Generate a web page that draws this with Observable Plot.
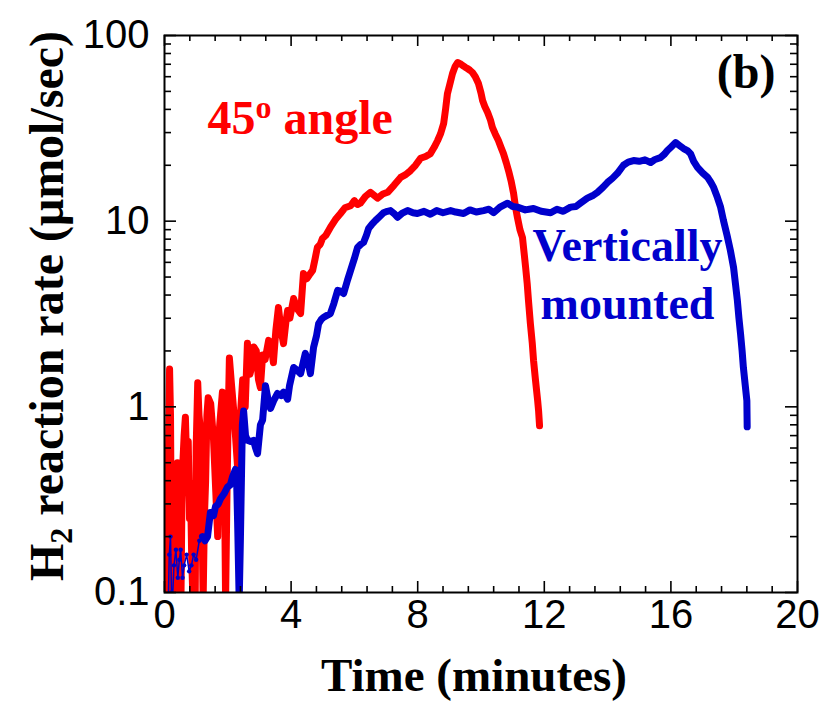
<!DOCTYPE html>
<html>
<head>
<meta charset="utf-8">
<script src="https://cdn.jsdelivr.net/npm/d3@7"></script>
<script src="https://cdn.jsdelivr.net/npm/@observablehq/plot@0.6"></script>
<style>
  html, body { margin: 0; padding: 0; background: #fff; }
  svg { display: block; }
</style>
</head>
<body>
<div id="chart"></div>
<script>
// ---- Data ----
// 45° angle run: time (minutes) and H2 reaction rate (µmol/sec)
const angleTime = [0.08,0.12,0.16,0.19,0.21,0.24,0.28,0.31,0.34,0.38,0.41,0.44,0.48,0.52,0.55,0.58,0.62,0.66,0.70,0.75,0.79,0.82,0.86,0.90,0.94,0.97,1.00,1.05,1.09,1.12,1.15,1.18,1.22,1.26,1.30,1.34,1.38,1.46,1.55,1.62,1.68,1.74,1.83,1.89,1.93,1.97,2.00,2.05,2.12,2.20,2.31,2.38,2.47,2.55,2.62,2.70,2.75,2.82,2.90,2.97,3.03,3.10,3.18,3.29,3.36,3.44,3.52,3.60,3.68,3.76,3.84,3.89,3.96,4.08,4.18,4.30,4.39,4.50,4.60,4.68,4.76,4.83,4.92,4.99,5.10,5.24,5.40,5.56,5.70,5.88,6.00,6.10,6.19,6.35,6.51,6.62,6.73,6.90,7.05,7.25,7.46,7.62,7.77,7.93,8.09,8.25,8.40,8.52,8.63,8.72,8.82,8.88,8.94,9.02,9.10,9.18,9.26,9.34,9.42,9.50,9.57,9.65,9.73,9.82,9.92,10.00,10.05,10.12,10.21,10.30,10.36,10.45,10.55,10.63,10.71,10.80,10.87,10.95,11.03,11.09,11.15,11.23,11.31,11.36,11.41,11.46,11.50,11.56,11.62,11.66,11.72,11.79,11.82,11.85];
const angleRate = [0.09,0.5,1.6,0.9,0.25,0.09,0.35,0.15,0.45,0.29,0.5,0.09,0.2,0.09,0.3,0.5,0.7,0.88,0.5,0.65,0.25,0.39,0.15,0.09,0.2,0.09,0.6,1.35,0.9,0.8,0.4,0.3,0.09,0.25,0.4,0.9,1.12,1.04,0.66,0.35,0.2,0.78,1.2,0.5,0.09,0.3,0.66,1.83,1.3,0.9,0.47,0.8,1.4,1.0,2.2,1.5,1.63,2.1,2.0,1.4,1.27,1.9,1.8,2.28,2.2,1.73,2.6,3.43,2.6,2.19,2.9,3.3,3.0,3.83,3.4,3.18,5.23,4.9,5.2,5.43,6.3,7.22,7.5,8.07,8.4,9.25,10.2,11.0,11.8,12.1,12.9,12.3,12.5,13.6,14.3,13.8,13.3,14.0,14.3,15.6,17.2,17.8,18.7,20.0,21.8,22.3,23.1,25.0,27.2,29.5,33.6,40,48.7,55,62.4,68,71.5,70.5,68.9,67.5,66.4,65,63.2,60,55.1,49,44.7,41.5,38.5,35,32.0,29.5,27.2,25.0,23.1,20.6,18.7,16.5,14.1,11.9,10.5,9.0,8.17,6.8,5.63,4.6,3.74,2.81,2.2,1.78,1.4,1.08,0.95,0.79];

// Vertically mounted run
const vertTime = [0.12,0.15,0.19,0.22,0.25,0.30,0.36,0.42,0.47,0.51,0.57,0.62,0.70,0.78,0.85,0.92,1.00,1.10,1.20,1.28,1.36,1.45,1.55,1.61,1.70,1.77,1.88,1.99,2.08,2.15,2.24,2.28,2.31,2.36,2.40,2.46,2.50,2.56,2.62,2.72,2.81,2.88,2.94,3.03,3.10,3.19,3.27,3.35,3.45,3.57,3.68,3.76,3.89,3.95,4.08,4.18,4.30,4.45,4.55,4.61,4.71,4.80,4.87,4.95,5.02,5.12,5.24,5.35,5.47,5.56,5.66,5.78,5.88,6.00,6.10,6.20,6.29,6.38,6.45,6.55,6.67,6.80,6.92,7.04,7.14,7.25,7.36,7.50,7.68,7.85,7.99,8.20,8.40,8.60,8.80,9.04,9.20,9.45,9.65,9.85,10.08,10.25,10.40,10.60,10.84,11.00,11.15,11.40,11.66,11.90,12.20,12.40,12.60,12.83,13.00,13.14,13.36,13.52,13.68,13.85,14.00,14.15,14.31,14.50,14.65,14.82,15.00,15.18,15.36,15.50,15.67,15.80,15.89,16.00,16.15,16.28,16.40,16.52,16.62,16.72,16.84,17.00,17.16,17.26,17.35,17.47,17.57,17.66,17.78,17.88,17.98,18.04,18.10,18.15,18.20,18.25,18.29,18.35,18.40,18.41];
const vertRate = [0.09,0.16,0.2,0.1,0.09,0.14,0.17,0.12,0.15,0.17,0.12,0.14,0.16,0.13,0.14,0.16,0.15,0.19,0.2,0.19,0.2,0.27,0.26,0.29,0.3,0.32,0.34,0.37,0.38,0.42,0.46,0.39,0.24,0.09,0.2,0.8,0.95,0.7,0.66,0.65,0.66,0.6,0.56,0.8,0.85,1.3,1.1,0.98,1.08,1.18,1.15,1.2,1.1,1.3,1.63,1.58,1.51,1.94,1.7,1.51,2.09,2.4,2.81,2.95,3.03,3.1,3.18,3.6,4.24,4.2,4.08,4.8,5.43,6.3,7.22,7.5,7.68,8.4,9.14,9.6,10.1,10.6,11.1,11.3,11.4,11.0,10.5,11.0,11.4,11.1,11.0,11.3,10.9,11.4,11.1,11.4,11.2,11.0,11.5,11.2,11.4,11.6,11.1,11.9,12.5,12.0,11.9,11.5,11.7,11.3,11.1,11.6,11.3,11.9,12.0,12.5,13.3,13.7,14.3,15.2,16.2,17.0,18.1,20.0,20.8,21.2,21.0,21.4,20.7,21.5,22.0,23.0,24.0,25.0,26.5,25.5,24.6,24.0,23.1,21.0,19.5,18.2,17.2,16.2,15.2,13.4,11.9,10.1,8.3,6.95,5.63,4.6,3.74,3.0,2.48,2.0,1.63,1.3,1.08,0.78];

// Early (sparse, noisy) part of the vertically mounted run is drawn thin
const vertThinUntil = 1.2;

// Axis ticks and labels
const xTicks = [0, 4, 8, 12, 16, 20];
const xTickLabels = ["0", "4", "8", "12", "16", "20"];
const yTicks = [0.1, 1, 10, 100];
const yTickLabels = ["0.1", "1", "10", "100"];
const xMinorStep = 0.8;
const yMinorMultipliers = [2, 3, 4, 5, 6, 7, 8, 9];
const yDecades = [0.1, 1, 10];

// Texts
const xTitle = "Time (minutes)";
const yTitle = "H2 reaction rate (\u03bcmol/sec)";
const angleLabel = "45o angle";
const vertLabel = "Vertically\nmounted";
const panelLabel = "(b)";

// ---- Build tables ----
const angle = angleTime.map((t, i) => ({t, r: angleRate[i]}));
const vert = vertTime.map((t, i) => ({t, r: vertRate[i]}));
const vertEarly = vert.filter(d => d.t <= vertThinUntil);
const vertMain = vert.filter(d => d.t >= vertThinUntil);
const xMinor = d3.range(1, 25).filter(k => k % 5 !== 0).map(k => +(k * xMinorStep).toFixed(2));
const yMinor = yDecades.flatMap(d => yMinorMultipliers.map(m => +(d * m).toPrecision(3)));

const W = 824, H = 703, mL = 164, mR = 27, mT = 35, mB = 111;
const pw = W - mL - mR, ph = H - mT - mB;

const serif = "'Liberation Serif', 'Times New Roman', serif";
const sans = "'Liberation Sans', Arial, sans-serif";
const RED = "#ff0000", BLUE = "#0000cc";

const tickStyle = {stroke: "black", strokeWidth: 1.6};
const lineStyle = {strokeWidth: 7, strokeLinejoin: "round", strokeLinecap: "round", clip: true};

const svg = Plot.plot({
  width: W, height: H,
  marginLeft: mL, marginRight: mR, marginTop: mT, marginBottom: mB,
  style: {background: "white", color: "black", fontFamily: sans},
  x: {domain: [0, 20]},
  y: {type: "log", domain: [0.1, 100]},
  marks: [
    Plot.line(angle, {x: "t", y: "r", stroke: RED, ...lineStyle}),
    Plot.line(vertEarly, {x: "t", y: "r", stroke: BLUE, strokeWidth: 1.5, clip: true}),
    Plot.dot(vertEarly, {x: "t", y: "r", fill: BLUE, r: 2.2, clip: true}),
    Plot.line(vertMain, {x: "t", y: "r", stroke: BLUE, ...lineStyle}),
    // inward ticks: bottom & top
    Plot.tickX(xTicks, {x: d => d, insetTop: ph - 11, ...tickStyle}),
    Plot.tickX(xTicks, {x: d => d, insetBottom: ph - 11, ...tickStyle}),
    Plot.tickX(xMinor, {x: d => d, insetTop: ph - 6, ...tickStyle}),
    Plot.tickX(xMinor, {x: d => d, insetBottom: ph - 6, ...tickStyle}),
    // inward ticks: left & right
    Plot.tickY(yTicks, {y: d => d, insetRight: pw - 12, ...tickStyle}),
    Plot.tickY(yTicks, {y: d => d, insetLeft: pw - 12, ...tickStyle}),
    Plot.tickY(yMinor, {y: d => d, insetRight: pw - 7, ...tickStyle}),
    Plot.tickY(yMinor, {y: d => d, insetLeft: pw - 7, ...tickStyle}),
    Plot.frame({stroke: "black", strokeWidth: 2}),
    Plot.axisX({ticks: xTicks, tickSize: 0, tickPadding: 7, label: null, fontSize: 40, fontFamily: sans, fill: "black",
      tickFormat: d => xTickLabels[xTicks.indexOf(d)]}),
    Plot.axisY({ticks: yTicks, tickSize: 0, tickPadding: 15, label: null, fontSize: 40, fontFamily: sans, fill: "black",
      tickFormat: d => yTickLabels[yTicks.indexOf(d)]}),
    // titles
    Plot.text([xTitle], {text: d => d, frameAnchor: "bottom", dx: -7, dy: 98, lineAnchor: "bottom", textAnchor: "middle",
      fontSize: 47, fontWeight: "bold", fontFamily: serif, fill: "black"}),
    Plot.text([yTitle], {text: d => d, frameAnchor: "left", rotate: -90, dx: -102, dy: -8, lineAnchor: "bottom", textAnchor: "middle",
      fontSize: 48, fontWeight: "bold", fontFamily: serif, fill: "black"}),
    // annotations
    Plot.text([angleLabel], {text: d => d, frameAnchor: "top-left", dx: 43, dy: 98, lineAnchor: "bottom", textAnchor: "start",
      fontSize: 48, fontWeight: "bold", fontFamily: serif, fill: RED}),
    Plot.text([vertLabel], {text: d => d, frameAnchor: "top-left", dx: 463, dy: 283, lineAnchor: "bottom", textAnchor: "middle",
      lineHeight: 1.26, fontSize: 46, fontWeight: "bold", fontFamily: serif, fill: BLUE}),
    Plot.text([panelLabel], {text: d => d, frameAnchor: "top-right", dx: -22, dy: 52, lineAnchor: "bottom", textAnchor: "end",
      fontSize: 48, fontWeight: "bold", fontFamily: serif, fill: "black"})
  ]
});

// superscript / subscript via tspans
d3.select(svg).selectAll("text").each(function () {
  const el = d3.select(this);
  if (this.textContent === angleLabel) {
    el.text(null);
    el.append("tspan").text("45");
    el.append("tspan").style("font-size", "32px").attr("dy", -16).text("o");
    el.append("tspan").attr("dy", 16).text(" angle");
  } else if (this.textContent === yTitle) {
    el.text(null);
    el.append("tspan").text("H");
    el.append("tspan").style("font-size", "32px").attr("dy", 9).text("2");
    el.append("tspan").attr("dy", -9).text(" reaction rate (\u03bcmol/sec)");
  }
});

document.getElementById("chart").appendChild(svg);
</script>
</body>
</html>
